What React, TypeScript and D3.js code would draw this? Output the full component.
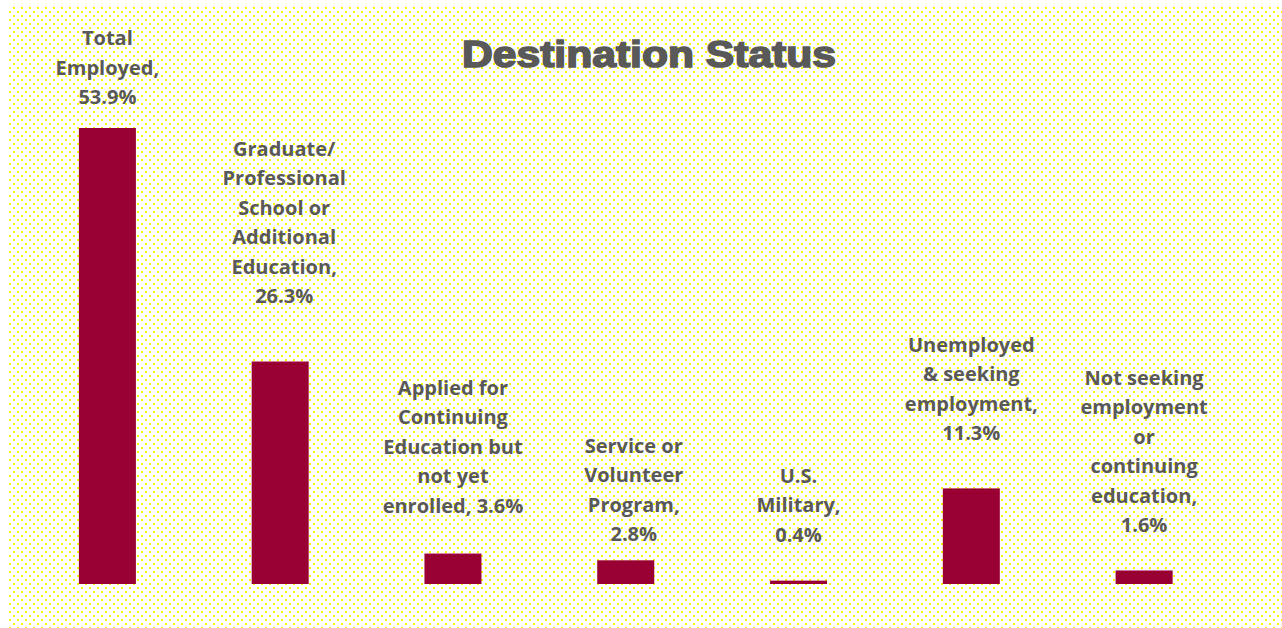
import React from "react";
import * as d3 from "d3";

const categories = [
  "Total Employed",
  "Graduate/Professional School or Additional Education",
  "Applied for Continuing Education but not yet enrolled",
  "Service or Volunteer Program",
  "U.S. Military",
  "Unemployed & seeking employment",
  "Not seeking employment or continuing education",
];
const values = [53.9, 26.3, 3.6, 2.8, 0.4, 11.3, 1.6];
const labelLines = [
  ["Total", "Employed,", "53.9%"],
  ["Graduate/", "Professional", "School or", "Additional", "Education,", "26.3%"],
  ["Applied for", "Continuing", "Education but", "not yet", "enrolled, 3.6%"],
  ["Service or", "Volunteer", "Program,", "2.8%"],
  ["U.S.", "Military,", "0.4%"],
  ["Unemployed", "& seeking", "employment,", "11.3%"],
  ["Not seeking", "employment", "or", "continuing", "education,", "1.6%"],
];
const title = "Destination Status";

// layout: gap between last label line baseline and bar top
const labelGap = [24, 58, 41, 19, 39, 48, 38];
const labelDx = [0, 4, 0, 8, 0, 0, 0];

const W = 1282;
const H = 628;
const baseY = 584;

export default function App() {
  const x = d3
    .scaleBand<string>()
    .domain(categories)
    .range([21, 1230.5])
    .paddingInner(0.67)
    .paddingOuter(0.335);
  const y = d3.scaleLinear().domain([0, 53.9]).range([baseY, 128]);
  const lineH = 29.5;

  return (
    <svg
      width={W}
      height={H}
      style={{ position: "absolute", left: 0, top: 0 }}
      xmlns="http://www.w3.org/2000/svg"
    >
      <defs>
        <pattern id="dots" x={9} y={3} width={8} height={8} patternUnits="userSpaceOnUse">
          <rect x={0} y={0} width={2} height={2} fill="#FFFF00" />
          <rect x={4} y={4} width={2} height={2} fill="#FFFF00" />
        </pattern>
      </defs>
      <rect x={0} y={0} width={W} height={H} fill="#ffffff" />
      <rect x={8} y={6} width={W - 8} height={H - 6} fill="url(#dots)" />
      <text
        x={649}
        y={67}
        textAnchor="middle"
        fontFamily="'Liberation Sans', Arial, sans-serif"
        fontWeight={700}
        fontSize={36}
        fill="#595959"
        stroke="#595959"
        strokeWidth={1.6}
        textLength={374}
        lengthAdjust="spacingAndGlyphs"
      >
        {title}
      </text>
      {categories.map((c, i) => {
        const bx = x(c)!;
        const bw = x.bandwidth();
        const top = y(values[i]);
        const lines = labelLines[i];
        const lastBase = top - labelGap[i];
        const cx = bx + bw / 2 + labelDx[i];
        return (
          <g key={c}>
            <rect x={bx} y={top} width={bw} height={baseY - top} fill="#990033" />
            <text
              textAnchor="middle"
              fontFamily="'Open Sans', Lato, sans-serif"
              fontWeight={700}
              fontSize={20}
              fill="#595959"
            >
              {lines.map((ln, j) => (
                <tspan key={j} x={cx} y={lastBase - (lines.length - 1 - j) * lineH}>
                  {ln}
                </tspan>
              ))}
            </text>
          </g>
        );
      })}
    </svg>
  );
}
